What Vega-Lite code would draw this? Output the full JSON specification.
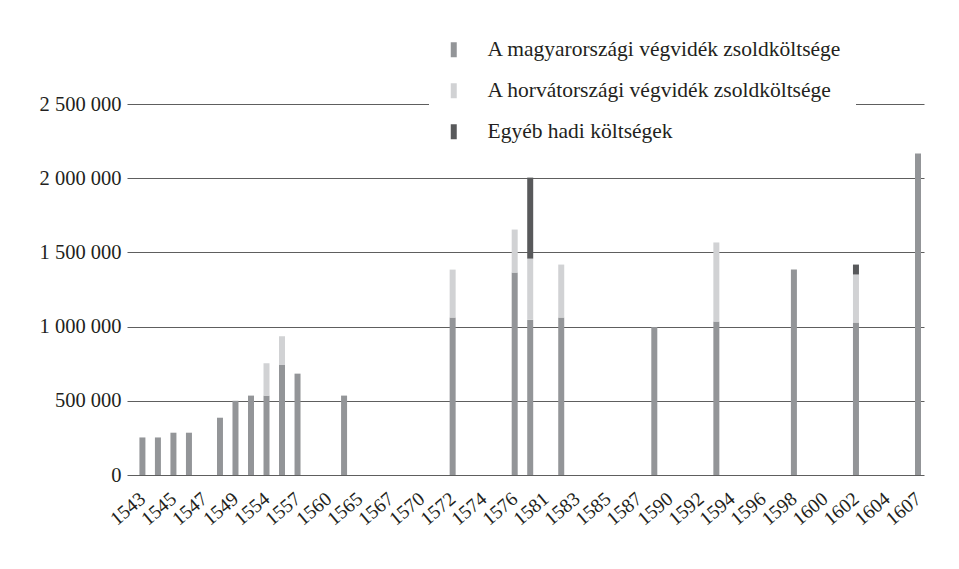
{
  "$schema": "https://vega.github.io/schema/vega-lite/v6.json",
  "width": 797,
  "height": 371,
  "autosize": "none",
  "padding": {"left": 127, "top": 104, "right": 35, "bottom": 94},
  "background": "white",
  "config": {
    "view": {"stroke": null},
    "font": "Liberation Serif, DejaVu Serif",
    "locale": {"number": {"decimal": ",", "thousands": " ", "grouping": [3], "currency": ["", ""]}}
  },
  "data": {
    "values": [
      {"year": "1543", "type": "A magyarországi végvidék zsoldköltsége", "rank": 1, "value": 253000},
      {"year": "1544", "type": "A magyarországi végvidék zsoldköltsége", "rank": 1, "value": 253000},
      {"year": "1545", "type": "A magyarországi végvidék zsoldköltsége", "rank": 1, "value": 285000},
      {"year": "1546", "type": "A magyarországi végvidék zsoldköltsége", "rank": 1, "value": 285000},
      {"year": "1548", "type": "A magyarországi végvidék zsoldköltsége", "rank": 1, "value": 386000},
      {"year": "1549", "type": "A magyarországi végvidék zsoldköltsége", "rank": 1, "value": 500000},
      {"year": "1552", "type": "A magyarországi végvidék zsoldköltsége", "rank": 1, "value": 535000},
      {"year": "1554", "type": "A magyarországi végvidék zsoldköltsége", "rank": 1, "value": 535000},
      {"year": "1554", "type": "A horvátországi végvidék zsoldköltsége", "rank": 2, "value": 218000},
      {"year": "1556", "type": "A magyarországi végvidék zsoldköltsége", "rank": 1, "value": 744000},
      {"year": "1556", "type": "A horvátországi végvidék zsoldköltsége", "rank": 2, "value": 191000},
      {"year": "1557", "type": "A magyarországi végvidék zsoldköltsége", "rank": 1, "value": 683000},
      {"year": "1563", "type": "A magyarországi végvidék zsoldköltsége", "rank": 1, "value": 535000},
      {"year": "1572", "type": "A magyarországi végvidék zsoldköltsége", "rank": 1, "value": 1061000},
      {"year": "1572", "type": "A horvátországi végvidék zsoldköltsége", "rank": 2, "value": 323000},
      {"year": "1576", "type": "A magyarországi végvidék zsoldköltsége", "rank": 1, "value": 1364000},
      {"year": "1576", "type": "A horvátországi végvidék zsoldköltsége", "rank": 2, "value": 290000},
      {"year": "1578", "type": "A magyarországi végvidék zsoldköltsége", "rank": 1, "value": 1047000},
      {"year": "1578", "type": "A horvátországi végvidék zsoldköltsége", "rank": 2, "value": 411000},
      {"year": "1578", "type": "Egyéb hadi költségek", "rank": 3, "value": 546000},
      {"year": "1582", "type": "A magyarországi végvidék zsoldköltsége", "rank": 1, "value": 1061000},
      {"year": "1582", "type": "A horvátországi végvidék zsoldköltsége", "rank": 2, "value": 357000},
      {"year": "1588", "type": "A magyarországi végvidék zsoldköltsége", "rank": 1, "value": 997000},
      {"year": "1593", "type": "A magyarországi végvidék zsoldköltsége", "rank": 1, "value": 1034000},
      {"year": "1593", "type": "A horvátországi végvidék zsoldköltsége", "rank": 2, "value": 533000},
      {"year": "1598", "type": "A magyarországi végvidék zsoldköltsége", "rank": 1, "value": 1384000},
      {"year": "1602", "type": "A magyarországi végvidék zsoldköltsége", "rank": 1, "value": 1027000},
      {"year": "1602", "type": "A horvátországi végvidék zsoldköltsége", "rank": 2, "value": 324000},
      {"year": "1602", "type": "Egyéb hadi költségek", "rank": 3, "value": 67000},
      {"year": "1607", "type": "A magyarországi végvidék zsoldköltsége", "rank": 1, "value": 2166000}
    ]
  },
  "mark": {"type": "bar", "width": 6},
  "encoding": {
    "x": {
      "field": "year",
      "type": "ordinal",
      "scale": {
        "type": "point",
        "domain": ["1543","1544","1545","1546","1547","1548","1549","1552","1554","1556","1557","1559","1560","1563","1565","1566","1567","1569","1570","1571","1572","1573","1574","1575","1576","1578","1581","1582","1583","1584","1585","1586","1587","1588","1590","1591","1592","1593","1594","1595","1596","1597","1598","1599","1600","1601","1602","1603","1604","1606","1607"],
        "padding": 0.69,
        "align": 0.72,
        "round": false
      },
      "axis": {
        "title": null,
        "values": ["1543","1545","1547","1549","1554","1557","1560","1565","1567","1570","1572","1574","1576","1581","1583","1585","1587","1590","1592","1594","1596","1598","1600","1602","1604","1607"],
        "labelAngle": -40,
        "labelAlign": "right",
        "labelBaseline": "middle",
        "labelPadding": 21,
        "labelFont": "Liberation Serif, DejaVu Serif",
        "labelFontSize": 19.5,
        "labelColor": "#231f20",
        "domain": false,
        "ticks": false,
        "grid": false
      }
    },
    "y": {
      "field": "value",
      "type": "quantitative",
      "aggregate": "sum",
      "stack": "zero",
      "scale": {"domain": [0, 2500000], "nice": false},
      "axis": {
        "title": null,
        "values": [0, 500000, 1000000, 1500000, 2000000, 2500000],
        "format": ",d",
        "labelFont": "Liberation Serif, DejaVu Serif",
        "labelFontSize": 20.5,
        "labelColor": "#231f20",
        "labelPadding": 6,
        "domain": false,
        "ticks": false,
        "grid": true,
        "gridColor": "#5e5e5e",
        "gridWidth": 1
      }
    },
    "color": {
      "field": "type",
      "type": "nominal",
      "scale": {
        "domain": ["A magyarországi végvidék zsoldköltsége", "A horvátországi végvidék zsoldköltsége", "Egyéb hadi költségek"],
        "range": ["#939598", "#d1d2d4", "#58595b"]
      },
      "legend": {
        "title": null,
        "orient": "none",
        "legendX": 302,
        "legendY": -79,
        "fillColor": "white",
        "padding": 14,
        "symbolType": "M-0.4,-1H0.4V1H-0.4Z",
        "symbolSize": 225,
        "symbolStrokeWidth": 0,
        "labelFont": "Liberation Serif, DejaVu Serif",
        "labelFontSize": 21.5,
        "labelColor": "#231f20",
        "labelOffset": 23,
        "labelLimit": 500,
        "rowPadding": 18
      }
    },
    "order": {"field": "rank", "type": "quantitative", "sort": "ascending"}
  }
}
